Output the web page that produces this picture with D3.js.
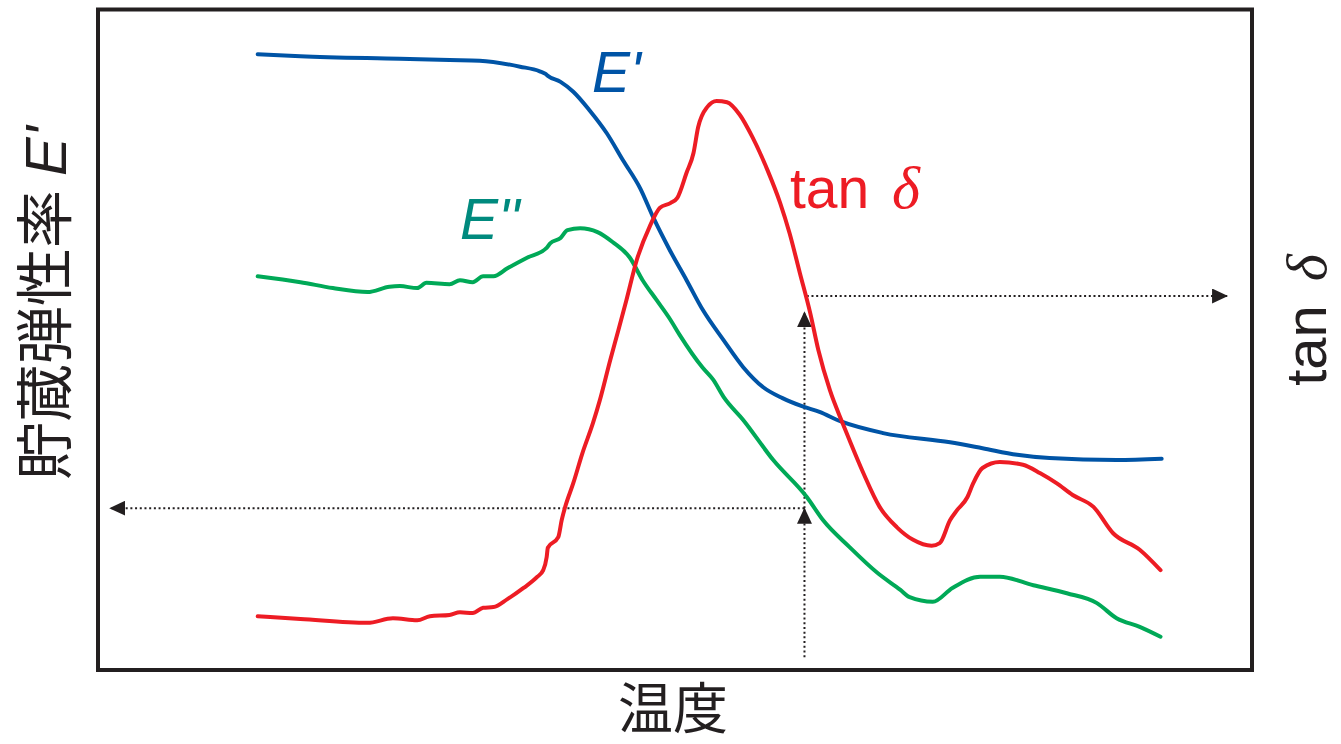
<!DOCTYPE html>
<html lang="ja">
<head>
<meta charset="utf-8">
<title>動的粘弾性 温度分散</title>
<script src="https://cdn.jsdelivr.net/npm/d3@7"></script>
<style>
  html, body { margin: 0; padding: 0; background: #fff; }
  svg { display: block; }
</style>
</head>
<body>
<svg id="chart" width="1341" height="744"></svg>
<script>
// Temperature (relative units, 0–100 across the frame) and response levels (relative, 0–100)
const storageModulus = [ // E'
  [13.9,93.3],[17.6,93.0],[26.2,92.6],[30.5,92.4],[33.1,92.3],[36.6,91.4],[38.3,90.7],
  [38.8,90.3],[39.0,90.0],[40.1,89.1],[41.2,87.6],[42.6,84.8],[44.1,81.3],[45.5,77.2],
  [47.0,72.9],[48.1,68.6],[49.6,63.4],[51.0,59.0],[52.4,54.5],[54.2,49.9],[55.9,45.8],
  [57.6,42.8],[59.3,41.1],[61.1,39.8],[62.5,39.0],[64.3,37.6],[68.0,35.8],[73.8,34.4],
  [76.6,33.5],[79.6,32.5],[82.4,32.0],[88.2,31.7],[92.1,31.9]
];
const lossModulus = [ // E''
  [13.9,59.6],[17.6,58.7],[20.4,57.8],[23.4,57.2],[25.3,58.0],[26.2,58.1],[27.7,57.8],
  [28.5,58.6],[30.5,58.4],[31.4,59.0],[32.5,58.7],[33.4,59.6],[34.3,59.6],[35.5,60.8],
  [37.2,62.4],[38.9,63.9],[39.2,64.6],[40.1,65.4],[40.7,66.6],[41.8,66.9],[43.3,66.3],
  [44.6,64.8],[46.1,62.4],[47.2,59.0],[48.4,56.0],[49.6,53.0],[50.4,50.7],[52.4,45.7],
  [53.3,43.9],[54.2,41.3],[55.9,37.8],[58.5,31.7],[61.4,26.1],[62.8,22.6],[65.1,18.5],
  [67.5,14.6],[69.5,12.0],[70.3,10.9],[72.3,10.2],[74.0,12.3],[76.4,14.0],[78.1,14.0],
  [81.0,12.7],[83.9,11.5],[86.5,10.0],[88.2,7.7],[90.2,6.4],[92.0,4.9]
];
const lossTangent = [ // tan δ
  [13.9,8.0],[17.6,7.6],[23.4,7.0],[25.6,7.7],[27.7,7.4],[28.8,8.0],[30.5,8.2],[31.4,8.6],
  [32.5,8.5],[33.4,9.3],[34.3,9.4],[35.5,10.6],[36.9,12.3],[38.1,14.0],[38.6,15.0],
  [38.9,17.0],[39.0,18.4],[39.9,20.0],[40.2,22.6],[40.5,24.6],[41.2,28.2],[42.0,32.8],
  [42.9,37.3],[43.5,40.8],[44.4,46.9],[45.1,51.4],[45.8,56.0],[46.7,62.1],[47.8,67.1],
  [48.7,70.0],[49.6,70.7],[50.2,71.5],[51.0,75.3],[51.6,78.3],[52.0,82.2],[52.8,85.3],
  [53.6,86.2],[54.5,86.0],[55.6,84.1],[56.7,80.7],[58.0,75.7],[59.1,70.7],[59.9,66.2],
  [60.8,60.1],[61.7,54.0],[62.4,48.4],[63.4,42.3],[64.5,37.3],[65.1,34.7],[66.3,29.7],
  [67.7,24.6],[69.2,21.5],[70.6,19.6],[72.2,18.7],[72.9,19.1],[73.8,22.6],[74.4,24.1],
  [75.3,26.1],[75.8,28.2],[76.6,30.5],[78.1,31.4],[80.1,31.0],[81.6,29.7],[83.0,28.2],
  [84.4,26.4],[86.2,24.6],[87.9,20.6],[90.2,18.1],[92.0,15.0]
];

// Reading guide: a chosen temperature, traced up to the curves and across to each axis
const readTemp = 61.2;
const readStart = 1.8;
const modulusLevel = 24.4;
const tanLevel = 56.6;
const tanReadTop = 54.2;
const tanLineStart = 61.4;
const leftArrowEnd = 1.1;
const rightArrowEnd = 97.8;

const labels = {
  xAxis: "温度",
  yLeft: "貯蔵弾性率",
  yLeftSymbol: "E'",
  storage: "E'",
  loss: "E''",
  tan: "tan",
  delta: "δ"
};

const colors = {
  storage: "#0054a6",
  loss: "#00a957",
  lossLabel: "#008a7e",
  tan: "#ed1c24",
  ink: "#231f20"
};

const svg = d3.select("#chart");

const x = d3.scaleLinear().domain([0, 100]).range([97, 1253]);
const y = d3.scaleLinear().domain([0, 100]).range([669, 10]);

// Frame of the plot area
svg.append("rect")
  .attr("x", 98).attr("y", 9.5)
  .attr("width", 1154).attr("height", 660.5)
  .attr("fill", "none")
  .attr("stroke", colors.ink)
  .attr("stroke-width", 4);

// Arrowhead marker
const defs = svg.append("defs");
defs.append("marker")
  .attr("id", "arrow")
  .attr("markerUnits", "userSpaceOnUse")
  .attr("viewBox", "0 0 16 15")
  .attr("markerWidth", 16).attr("markerHeight", 15)
  .attr("refX", 15.5).attr("refY", 7.5)
  .attr("orient", "auto")
  .append("path")
  .attr("d", "M0,0 L16,7.5 L0,15 Z")
  .attr("fill", colors.ink);

const guides = [
  [[readTemp, readStart], [readTemp, modulusLevel]],
  [[readTemp, modulusLevel], [readTemp, tanReadTop]],
  [[readTemp, modulusLevel], [leftArrowEnd, modulusLevel]],
  [[tanLineStart, tanLevel], [rightArrowEnd, tanLevel]]
];

svg.append("g").selectAll("line")
  .data(guides)
  .join("line")
  .attr("x1", d => x(d[0][0])).attr("y1", d => y(d[0][1]))
  .attr("x2", d => x(d[1][0])).attr("y2", d => y(d[1][1]))
  .attr("stroke", colors.ink)
  .attr("stroke-width", 2)
  .attr("stroke-dasharray", "2 2.7")
  .attr("marker-end", "url(#arrow)");

// Curves
const line = d3.line()
  .x(d => x(d[0]))
  .y(d => y(d[1]))
  .curve(d3.curveMonotoneX);

const series = [
  { data: storageModulus, color: colors.storage },
  { data: lossModulus, color: colors.loss },
  { data: lossTangent, color: colors.tan }
];

svg.append("g").selectAll("path")
  .data(series)
  .join("path")
  .attr("d", d => line(d.data))
  .attr("fill", "none")
  .attr("stroke", d => d.color)
  .attr("stroke-width", 4)
  .attr("stroke-linecap", "round")
  .attr("stroke-linejoin", "round");

// Curve labels
const sans = "'Liberation Sans', Arial, sans-serif";
const serif = "'Liberation Serif', 'Times New Roman', serif";
const cjk = "'Noto Sans CJK JP', 'Noto Sans CJK SC', sans-serif";

svg.append("text")
  .attr("x", 592).attr("y", 92)
  .attr("font-family", sans).attr("font-style", "italic")
  .attr("font-size", 57).attr("fill", colors.storage)
  .text(labels.storage);

svg.append("text")
  .attr("x", 460).attr("y", 239)
  .attr("font-family", sans).attr("font-style", "italic")
  .attr("font-size", 57).attr("fill", colors.lossLabel)
  .text(labels.loss);

svg.append("text")
  .attr("x", 790).attr("y", 208)
  .attr("font-family", sans)
  .attr("font-size", 57).attr("fill", colors.tan)
  .text(labels.tan);

svg.append("text")
  .attr("x", 892).attr("y", 208)
  .attr("font-family", serif).attr("font-style", "italic")
  .attr("font-size", 60).attr("fill", colors.tan)
  .text(labels.delta);

// Axis titles
svg.append("text")
  .attr("x", 673).attr("y", 728)
  .attr("text-anchor", "middle")
  .attr("font-family", cjk)
  .attr("font-size", 55).attr("fill", colors.ink)
  .text(labels.xAxis);

const leftTitle = svg.append("text")
  .attr("transform", "translate(66,303) rotate(-90)")
  .attr("text-anchor", "middle")
  .attr("font-size", 58).attr("fill", colors.ink);
leftTitle.append("tspan").attr("font-family", cjk).text(labels.yLeft);
leftTitle.append("tspan").attr("font-family", sans).attr("font-style", "italic")
  .attr("dx", 14).text(labels.yLeftSymbol);

const rightTitle = svg.append("text")
  .attr("transform", "translate(1326,320) rotate(-90)")
  .attr("text-anchor", "middle")
  .attr("font-size", 58).attr("fill", colors.ink);
rightTitle.append("tspan").attr("font-family", sans).text(labels.tan);
rightTitle.append("tspan").attr("font-family", serif).attr("font-style", "italic")
  .attr("dx", 24).text(labels.delta);
</script>
</body>
</html>
